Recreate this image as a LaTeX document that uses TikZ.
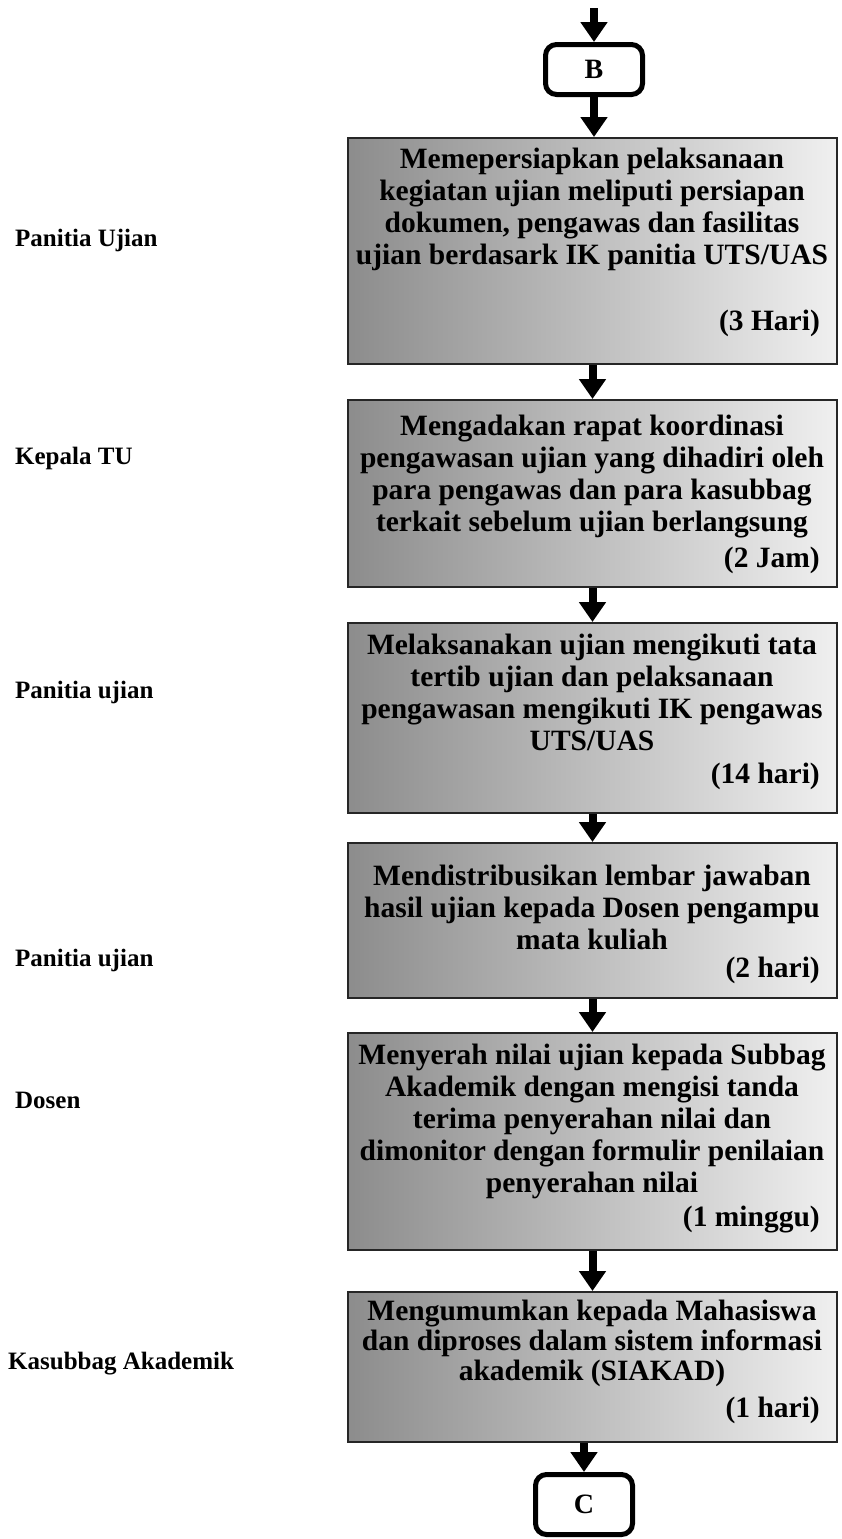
\documentclass[tikz,border=0pt]{standalone}
\usepackage{fontspec}
\setmainfont{Liberation Serif}
\usetikzlibrary{arrows.meta}
\tikzset{
  procbox/.style={rectangle, draw=black!85, line width=2pt, left color=black!45, right color=black!6, minimum width=489pt, inner sep=0pt},
  proctext/.style={inner sep=0pt, align=center, font=\fontsize{29.5}{32}\selectfont\bfseries},
  durtext/.style={inner sep=0pt, anchor=east, font=\fontsize{29.5}{32}\selectfont\bfseries},
  rolelabel/.style={inner sep=0pt, anchor=west, font=\fontsize{25}{28}\selectfont\bfseries},
  connbox/.style={rectangle, rounded corners=11pt, draw=black, line width=5pt, minimum width=97pt, inner sep=0pt, font=\fontsize{28}{30}\selectfont\bfseries},
  flowarrow/.style={draw=black, line width=8pt, -{Triangle[width=26pt,length=20pt]}}
}
\begin{document}
\begin{tikzpicture}[x=1pt,y=-1pt]
\useasboundingbox (0,0) rectangle (841,1539);

% connector boxes
\node[connbox, minimum height=50pt] (B) at (594,69.5) {B};
\node[connbox, minimum height=60pt] (C) at (584,1504.5) {C};
\coordinate (top) at (594,8);

% process boxes
\node[procbox, minimum height=226pt] (b1) at (592.5,251) {};
\node[procbox, minimum height=187pt] (b2) at (592.5,493.5) {};
\node[procbox, minimum height=190pt] (b3) at (592.5,718) {};
\node[procbox, minimum height=155pt] (b4) at (592.5,920.5) {};
\node[procbox, minimum height=217pt] (b5) at (592.5,1141.5) {};
\node[procbox, minimum height=150pt] (b6) at (592.5,1367) {};

% texts
\node[proctext] (t1) at (592,209) {Memepersiapkan pelaksanaan\\kegiatan ujian meliputi persiapan\\dokumen, pengawas dan fasilitas\\ujian berdasark IK panitia UTS/UAS};
\node[durtext] (d1) at (820,323) {(3 Hari)};
\node[proctext] (t2) at (592,477) {Mengadakan rapat koordinasi\\pengawasan ujian yang dihadiri oleh\\para pengawas dan para kasubbag\\terkait sebelum ujian berlangsung};
\node[durtext] (d2) at (820,560) {(2 Jam)};
\node[proctext] (t3) at (592,692) {Melaksanakan ujian mengikuti tata\\tertib ujian dan pelaksanaan\\pengawasan mengikuti IK pengawas\\UTS/UAS};
\node[durtext] (d3) at (820,776) {(14 hari)};
\node[proctext] (t4) at (592,907) {Mendistribusikan lembar jawaban\\hasil ujian kepada Dosen pengampu\\mata kuliah};
\node[durtext] (d4) at (820,970) {(2 hari)};
\node[proctext] (t5) at (592,1121) {Menyerah nilai ujian kepada Subbag\\Akademik dengan mengisi tanda\\terima penyerahan nilai dan\\dimonitor dengan formulir penilaian\\penyerahan nilai};
\node[durtext] (d5) at (820,1220) {(1 minggu)};
\node[proctext, font=\fontsize{29.5}{30}\selectfont\bfseries] (t6) at (592,1343) {Mengumumkan kepada Mahasiswa\\dan diproses dalam sistem informasi\\akademik (SIAKAD)};
\node[durtext] (d6) at (820,1410) {(1 hari)};

% role labels
\node[rolelabel] (r1) at (15,240) {Panitia Ujian};
\node[rolelabel] (r2) at (15,458) {Kepala TU};
\node[rolelabel] (r3) at (15,692) {Panitia ujian};
\node[rolelabel] (r4) at (15,960) {Panitia ujian};
\node[rolelabel] (r5) at (15,1100) {Dosen};
\node[rolelabel] (r6) at (8,1364) {Kasubbag Akademik};

% arrows
\draw[flowarrow] (top) -- (B.north);
\draw[flowarrow] (B.south) -- (B.south |- b1.north);
\draw[flowarrow] (b1.south) -- (b2.north);
\draw[flowarrow] (b2.south) -- (b3.north);
\draw[flowarrow] (b3.south) -- (b4.north);
\draw[flowarrow] (b4.south) -- (b5.north);
\draw[flowarrow] (b5.south) -- (b6.north);
\draw[flowarrow] (b6.south -| C.north) -- (C.north);
\end{tikzpicture}
\end{document}
